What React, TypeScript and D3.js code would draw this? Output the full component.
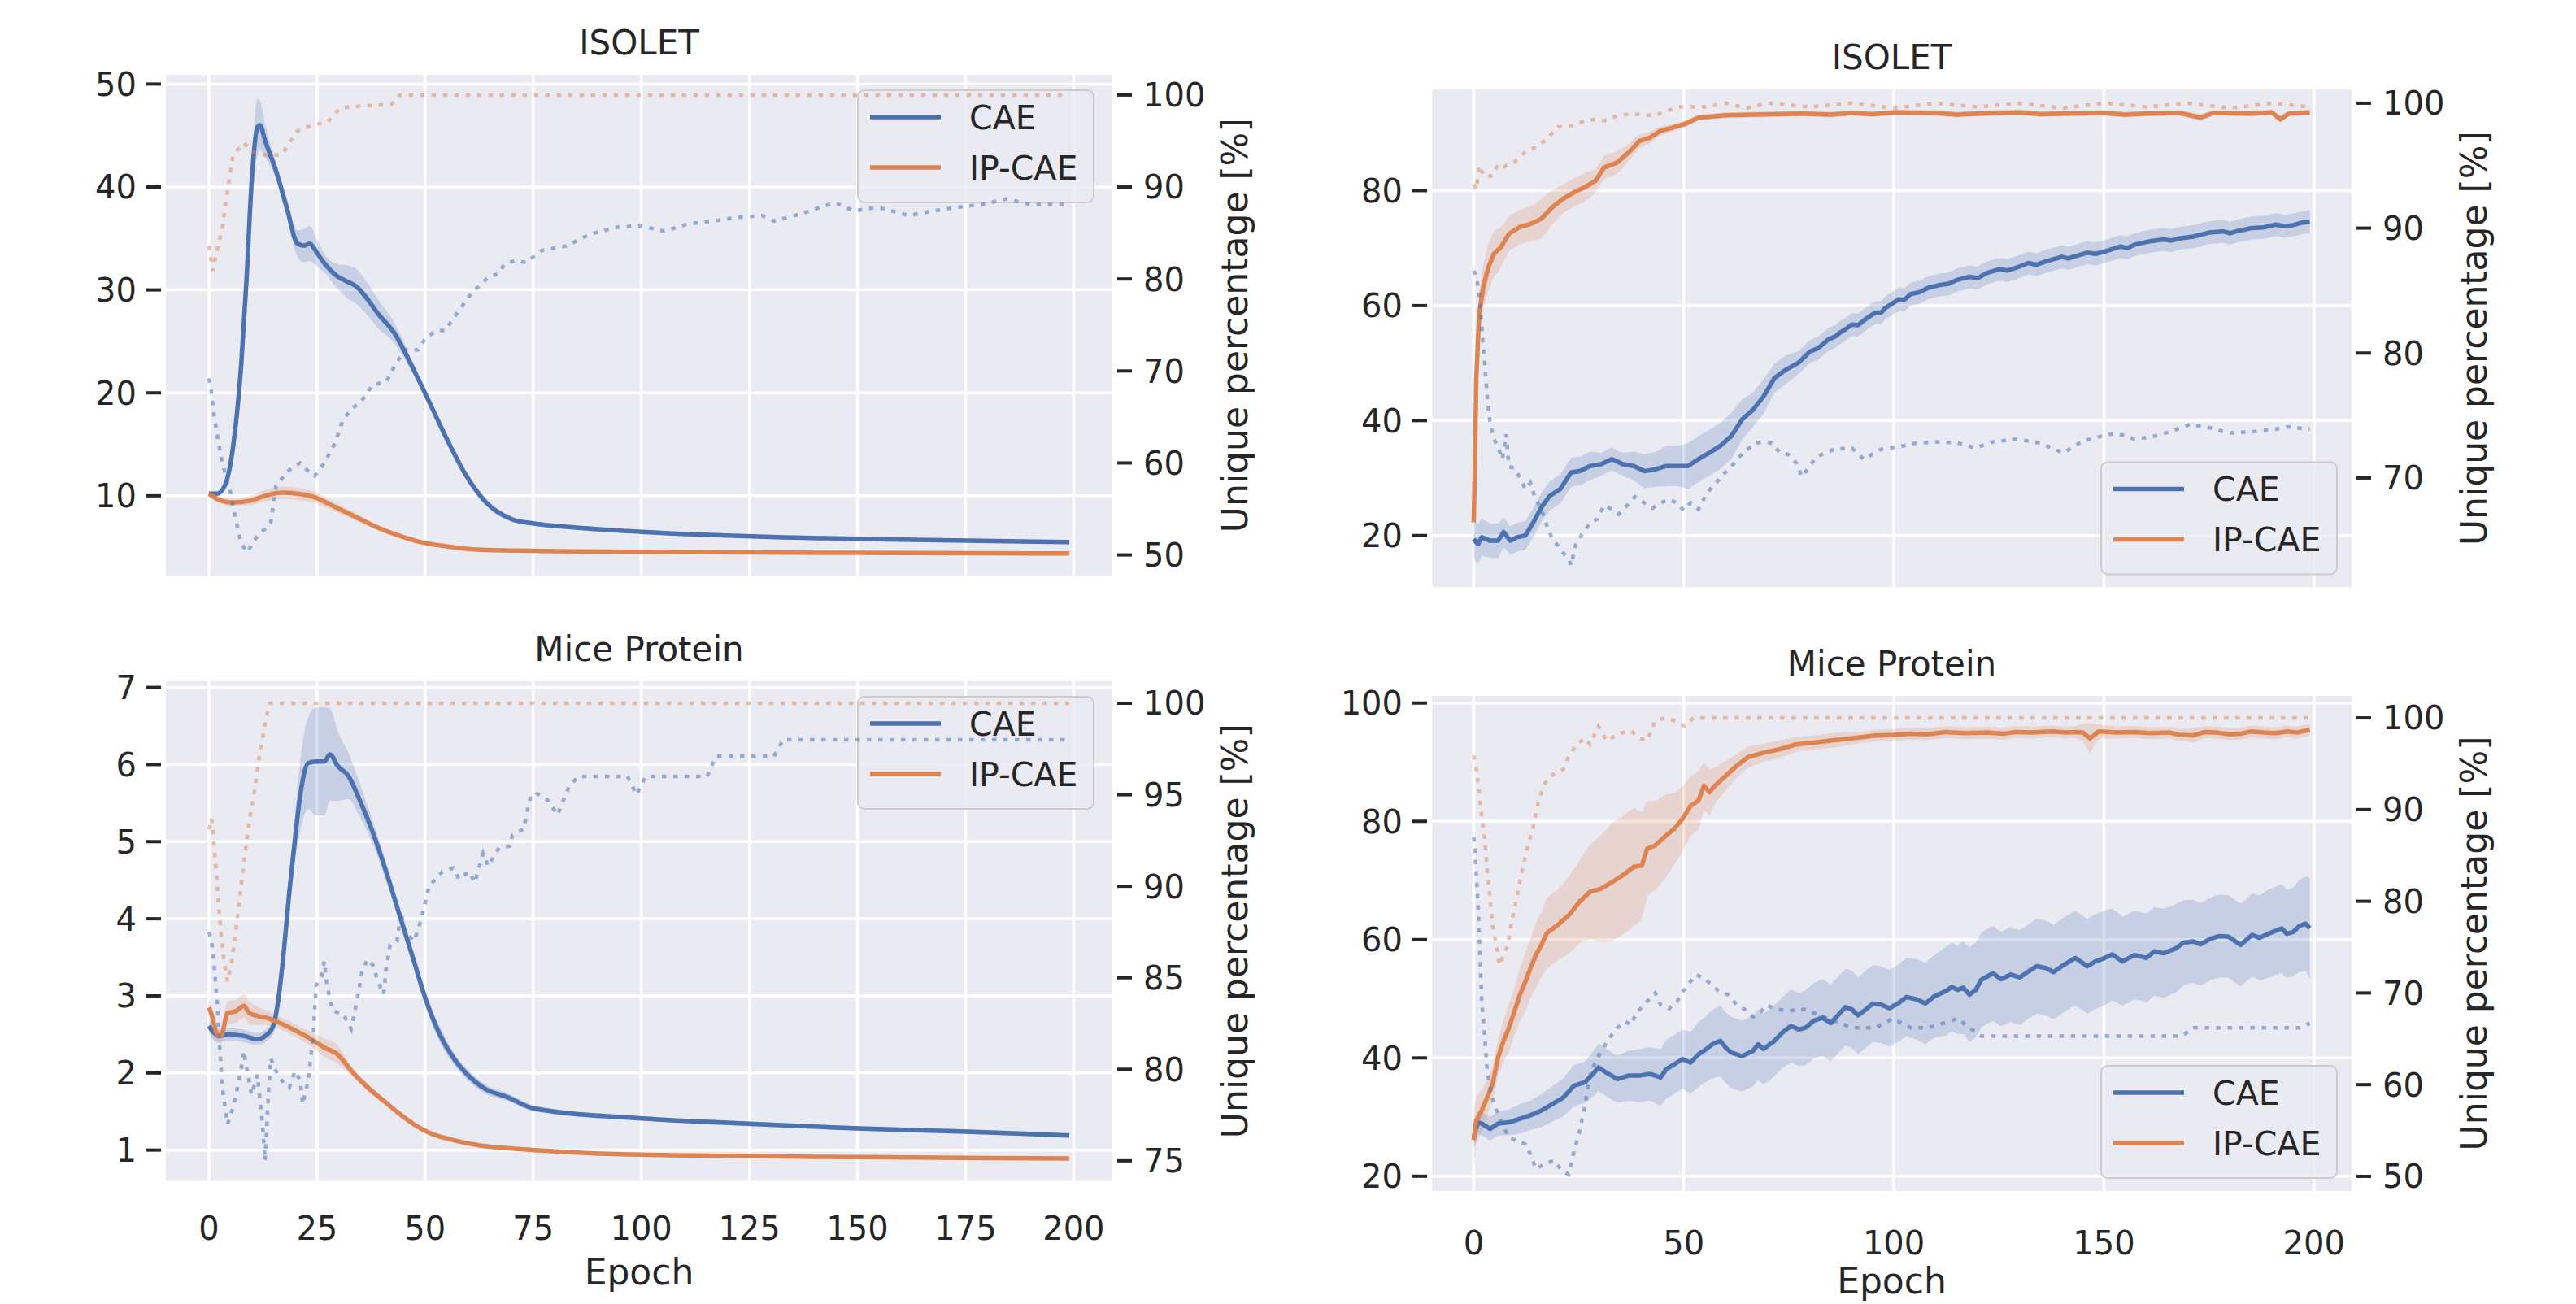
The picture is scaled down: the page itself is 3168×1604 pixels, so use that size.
import * as d3 from 'd3'

const W = 3168
const H = 1604
const FONT = '"DejaVu Sans", sans-serif'
const INK = '#262626'
const BLUE = '#4c72b0'
const ORANGE = '#dd8452'
const BG = '#eaeaf2'

// [epoch, mean, half-width of band]
const isoletLossCae = [[0,10.2,0.2],[1.9,10.2,0.2],[3.7,11.0,0.3],[5.6,14.8,0.4],[7.5,22.9,0.6],[8.7,31,0.8],[9.9,40.6,1.2],[11.2,45.8,2.8],[11.8,46.0,2.4],[13,44.5,1.6],[15.5,41.6,0.8],[18,38.0,0.9],[20.5,34.5,1.3],[22,34.3,1.6],[23.3,34.5,1.7],[25,33.6,1.3],[26.7,32.6,0.9],[29.8,31.3,1.2],[32,30.8,1.6],[34.2,30.3,1.7],[36.5,29.2,1.6],[39.1,27.7,1.4],[42.9,25.8,1.0],[46.6,22.9,0.6],[50.3,19.7,0.4],[54.7,15.8,0.3],[59.6,11.9,0.3],[64,9.4,0.3],[70.2,7.7,0.25],[75.2,7.3,0.2],[85,6.9,0.2],[100,6.5,0.2],[130,6.0,0.15],[160,5.75,0.15],[199,5.5,0.15]]
const isoletLossIp = [[0,10.2,0.3],[1.9,9.7,0.3],[5.6,9.35,0.35],[9.3,9.5,0.45],[13,10.0,0.55],[16.8,10.3,0.6],[20.5,10.2,0.6],[24.8,9.8,0.55],[29.2,8.9,0.45],[34.2,7.9,0.35],[39.1,6.9,0.25],[44.1,6.1,0.2],[49,5.5,0.15],[54.7,5.1,0.12],[60.9,4.8,0.1],[75.2,4.65,0.1],[100,4.55,0.1],[150,4.45,0.1],[199,4.4,0.1]]
// [epoch, unique %]
const isoletLossCaePct = [[0,69.2],[0.6,67.6],[1.2,65.1],[2.2,62.3],[3.1,60.0],[5,56.8],[6.2,53.9],[7.5,51.2],[9,50.3],[10.2,51.4],[11.8,52.4],[13,52.8],[14.3,53.5],[15.5,57.5],[17.4,58.6],[19.3,59.6],[21.1,60],[23,59.1],[24.5,58.6],[26.7,60],[29.2,62.2],[31,64.7],[32.9,65.8],[35.4,66.8],[37.9,68.5],[41,68.8],[42.9,70.5],[45.3,72.3],[48.4,72.3],[50.3,73.7],[52.8,74.4],[54.7,74.4],[56.5,75.7],[59.6,77.7],[60.9,78.6],[62.7,79.3],[64.6,80.2],[67.1,80.6],[68.3,81.6],[70.8,82.0],[73.3,81.8],[77,83.1],[82.7,83.6],[88.3,84.9],[94,85.6],[99.6,85.8],[105.3,85.2],[110.9,86.0],[116.6,86.3],[122.2,86.7],[127.9,86.9],[130.7,86.3],[136.4,87.0],[142,87.9],[144.9,88.3],[149.1,87.4],[154.7,87.8],[161.8,86.9],[167.5,87.4],[173.1,87.8],[178.8,88.1],[184.4,88.7],[190,88.1],[199,88.1]]
const isoletLossIpPct = [[0,83.6],[0.9,80.9],[1.9,83.1],[3.1,85.6],[4.3,89.6],[5.6,93.5],[8.1,94.8],[10.6,93.7],[13,93.5],[16.8,93.5],[20.5,96.1],[24.2,96.8],[27.3,97.0],[30.4,98.6],[35.4,98.8],[39.1,98.9],[42.2,99.0],[44.1,100],[199,100]]

const miceLossCae = [[0,2.61,0.1],[1.2,2.52,0.1],[2.5,2.48,0.08],[4.3,2.5,0.08],[8.1,2.48,0.08],[11.2,2.44,0.08],[13,2.48,0.08],[14.9,2.61,0.1],[16.1,2.97,0.12],[17.4,3.62,0.15],[18.6,4.35,0.2],[19.9,5.03,0.3],[21.1,5.59,0.45],[23,6.02,0.6],[24.8,6.04,0.7],[26.7,6.04,0.7],[28,6.13,0.6],[29.8,5.98,0.45],[32.3,5.85,0.3],[34.8,5.55,0.22],[37.9,5.12,0.15],[41,4.61,0.12],[44.1,4.05,0.1],[47.2,3.49,0.1],[50.3,2.93,0.1],[53.4,2.5,0.1],[56.5,2.2,0.08],[59.6,1.99,0.07],[64,1.79,0.06],[68.9,1.69,0.05],[75.2,1.54,0.04],[100.3,1.41,0.03],[125.4,1.34,0.03],[150.2,1.28,0.03],[175.2,1.24,0.03],[199,1.19,0.03]]
const miceLossIp = [[0,2.85,0.1],[0.6,2.76,0.12],[1.9,2.5,0.1],[2.8,2.48,0.1],[4.3,2.78,0.15],[6.2,2.8,0.15],[8.1,2.87,0.15],[9.3,2.78,0.15],[11.2,2.74,0.12],[13,2.72,0.1],[15.5,2.67,0.08],[18.6,2.59,0.08],[21.7,2.5,0.08],[24.2,2.42,0.1],[26.7,2.33,0.12],[29.8,2.24,0.12],[32.9,2.03,0.06],[36.6,1.82,0.05],[40.4,1.64,0.04],[44.1,1.47,0.04],[47.8,1.32,0.03],[51.6,1.21,0.03],[56.5,1.13,0.03],[62.7,1.06,0.02],[70.2,1.02,0.02],[75.2,1.0,0.02],[100,0.94,0.02],[150,0.91,0.02],[199,0.89,0.02]]
const miceLossCaePct = [[0,87.5],[0.6,87.0],[1.2,85.7],[1.9,83.7],[2.5,81.2],[3.1,79.0],[4.3,77.0],[5.6,77.9],[6.8,79.2],[7.5,80.1],[8.1,81.0],[8.7,80.1],[9.9,78.6],[11.2,79.7],[12.4,77.0],[13,75.0],[13.7,78.4],[14.3,80.6],[15.5,79.9],[16.8,79.4],[18.6,79.0],[19.9,79.9],[21.1,79.4],[21.7,78.1],[23,79.4],[24.2,82.1],[24.8,84.6],[26.1,85.1],[26.7,85.9],[27.3,84.6],[28.6,83.2],[31.1,83.0],[32.9,82.2],[34.2,83.7],[35.4,85.3],[36.6,86.0],[37.9,85.7],[39.1,84.8],[40.4,84.1],[41,85.5],[41.9,86.8],[43.5,87.0],[44.4,88.6],[45.3,87.5],[47.5,87.0],[49.1,88.2],[50.9,90.0],[54,90.8],[56.5,91.0],[57.8,90.4],[60.2,90.8],[61.5,90.2],[63.4,91.8],[64.6,91.1],[67.1,92.1],[69.6,92.2],[70.2,92.8],[72.7,93.1],[73.3,93.7],[73.9,94.4],[74.5,95.0],[75.6,95.1],[78.4,94.7],[80.6,93.9],[83.4,95.5],[85.5,96.0],[96.8,96.0],[98.9,95.0],[101,96.0],[115.2,96.0],[117.3,97.1],[130.7,97.1],[132.8,98.0],[199,98.0]]
const miceLossIpPct = [[0,93.1],[0.6,93.7],[1.2,92.2],[1.9,90.2],[2.5,88.2],[3.4,86.1],[4.3,84.8],[5.3,85.9],[6.2,87.5],[7.1,89.3],[8.1,91.3],[9.3,93.5],[10.6,95.3],[11.8,97.3],[13,98.9],[14,100],[199,100]]

const isoletAccCae = [[0,19.4,3.5],[1,18.5,3.5],[1.9,19.7,3.2],[3.9,19.1,3],[5.8,19.1,3],[7.1,20.6,2.5],[8.7,19.1,2.5],[10.3,19.7,2.5],[12.3,20,2.5],[14.2,22.3,2.5],[16.1,24.9,2.5],[18.1,26.9,2.5],[20.6,28.1,2.5],[23.2,31.0,2.5],[25.2,31.2,2.5],[27.7,32.1,2.5],[30.3,32.4,2],[32.9,33.3,2],[35.5,32.4,2],[38.1,32.1,2.5],[40.6,31.2,3],[43.2,31.5,3],[45.8,32.1,3.5],[48.4,32.1,3.5],[51,32.1,4],[53.5,33.3,4],[56.1,34.4,4],[58.7,35.6,4],[61.3,37.3,4],[63.9,40.2,3.5],[66.5,41.9,3],[69,44.2,3],[71.6,47.4,2.5],[74.2,48.8,2.5],[77.4,50.1,2],[80,52.0,2],[82,52.6,2],[84.4,54.1,2],[86,54.6,2],[87,55.2,2],[88.5,55.9,2],[90,56.7,2],[91.5,56.6,2],[93,57.5,2],[95.6,58.8,2],[97,58.8,2],[98,59.6,2],[101.2,61.1,2],[102.5,61.0,2],[104,62.0,2],[106,62.3,2],[108.2,63.1,2],[111,63.6,2],[113,63.8,2],[115.2,64.5,2],[118,65.0,2],[120,64.8,2],[122.2,65.7,2],[125,66.3,2],[127,66.1,2],[129.2,66.6,2],[132,67.4,2],[134,67.1,2],[136.2,67.7,2],[140,68.5,2],[141.5,68.2,2],[143.2,68.6,2],[146,69.2,2],[148,69.0,2],[150.2,69.4,2],[154,70.3,2],[155.5,70.0,2],[157.3,70.6,2],[161,71.2,2],[164.3,71.5,2],[166,71.3,2],[168,71.7,2],[171.3,72.0,2],[175,72.7,2],[178.3,72.9,2],[180,72.6,2],[182,73.0,2],[185.3,73.5,2],[188,73.6,2],[190.9,74.1,2],[193,73.8,2],[195,74.0,2],[197,74.4,2],[199,74.6,2]]
const isoletAccIp = [[0,22.3,1],[0.3,32.7,3],[0.6,47.1,4],[1.3,58.6,4],[2.3,63.3,4],[3.5,66.7,4],[4.8,69,4],[6.5,70.2,3.5],[8.4,72.5,3],[11,73.7,3],[13.5,74.2,3],[16.1,75.1,3.5],[18.7,77.1,3],[21.3,78.6,2.5],[23.9,79.7,2.5],[26.5,80.6,2.5],[29,81.7,2],[31,84.0,2],[34.2,84.9,2],[36.8,86.6,1.5],[39.4,88.6,1.2],[41.9,89.2,1],[44.5,90.4,0.8],[47.1,90.9,0.7],[50.3,91.6,0.6],[53.5,92.7,0.5],[60,93.1,0.5],[66.5,93.2,0.5],[78,93.4,0.5],[85,93.2,0.5],[90,93.5,0.5],[95,93.3,0.5],[100,93.6,0.5],[110,93.5,0.5],[115,93.2,0.5],[120,93.4,0.5],[130,93.6,0.5],[135,93.3,0.5],[140,93.4,0.5],[150,93.5,0.5],[155,93.2,0.5],[160,93.4,0.5],[168,93.5,0.5],[173,92.7,0.6],[176,93.5,0.5],[185,93.4,0.5],[190,93.6,0.5],[192,92.4,0.6],[194,93.4,0.5],[199,93.6,0.5]]
const isoletAccCaePct = [[0,86.6],[0.6,86.1],[1.3,84.8],[1.9,82.1],[2.6,79.2],[3.2,76.5],[3.9,74.4],[4.8,73.1],[5.8,72.5],[6.8,71.5],[7.7,73.5],[8.4,70.9],[9.7,70.8],[11,70.0],[12.3,69.1],[13.5,69.6],[14.5,68.5],[16.1,67.5],[17.4,66.2],[18.7,65.1],[20,64.6],[21.3,64.0],[22.6,63.5],[23.2,63.0],[24.2,64.6],[25.8,65.5],[27.7,66.4],[29.4,66.7],[31,67.8],[32.9,67.5],[34.5,67.1],[36.8,67.9],[38.4,68.5],[40.6,68.0],[42.6,67.6],[44.5,68.0],[46.5,68.3],[48.4,68.0],[50,67.4],[51.6,68.0],[53.5,67.5],[55.5,68.8],[57.4,69.5],[59.4,70.3],[61.3,70.9],[63.2,71.7],[65.2,72.3],[67.1,72.8],[69,72.9],[71,72.8],[72.9,72.0],[74.8,71.9],[76.8,71.2],[78.1,70.1],[81.6,71.7],[85.8,72.3],[90,72.4],[92.8,71.5],[97,72.3],[101.2,72.5],[105.4,72.8],[111,72.9],[115.2,72.8],[119.4,72.4],[123.6,72.9],[129.2,73.1],[134.8,72.8],[140.4,72.0],[144.6,72.9],[148.8,73.3],[153,73.6],[157.3,73.1],[161.5,73.3],[165.7,73.7],[170.6,74.3],[175.5,74.0],[179.7,73.6],[185.3,73.7],[190.9,73.9],[193.7,74.1],[199,73.9]]
const isoletAccIpPct = [[0,93.5],[0.6,93.1],[1.3,95.0],[2.6,94.1],[4.5,94.2],[5.8,95.1],[7.1,94.9],[9.7,95.3],[12.3,96.1],[14.8,96.5],[17.4,97.1],[20,98.1],[23.2,98.2],[26.5,98.6],[29,98.7],[31,98.6],[34.2,99.0],[36.8,99.1],[39.4,99.1],[43.2,99.0],[45.2,99.3],[49,99.7],[55,99.7],[60,100],[65,99.6],[70,100],[80,99.7],[90,100],[100,99.6],[110,100],[120,99.7],[130,100],[140,99.6],[150,100],[160,99.7],[170,100],[180,99.6],[190,100],[199,99.7]]

const miceAccCae = [[0,26.6,2],[1,29.1,2],[1.9,28.9,2],[3.9,28.0,2],[5.8,28.9,2],[8.4,29.1,2.2],[11,29.7,2.5],[13.5,30.3,2.5],[16.1,31.1,2.8],[18.7,32.2,3],[21.3,33.3,3.2],[23.9,35.3,3.5],[26.5,35.9,3.5],[28.4,37.3,3.8],[29.7,38.4,4],[31.6,37.5,4],[34.2,36.4,4],[36.8,37.0,4.2],[39.4,37.0,4.5],[41.9,37.3,4.5],[44.5,36.7,4.8],[45.8,38.1,5],[47.7,38.9,5],[49.7,39.8,5],[51.6,39.2,5.2],[53.5,40.6,5.5],[54.8,41.2,5.5],[56.8,42.3,5.8],[58.7,42.9,6],[60,41.7,6],[61.3,40.9,6],[63.9,40.3,6],[66.5,41.2,6],[67.7,42.3,6],[69,41.5,6],[71.6,42.9,6],[73.5,44.3,6],[75.5,45.4,6.2],[77.4,44.8,6.2],[79,45.1,6.3],[81,46.3,6.4],[83,46.8,6.5],[85,45.9,6.5],[87.2,47.6,6.5],[88.5,48.6,6.5],[90,48.2,6.5],[91.5,47.2,6.5],[92.8,47.9,6.5],[95,49.2,6.5],[97,49.0,6.5],[99,48.4,6.5],[101.2,49.3,6.5],[103,50.3,6.6],[105.4,49.9,6.8],[107.5,49.2,6.9],[109.6,50.4,7],[112.4,51.3,7.5],[113.8,52.0,7.5],[115.2,51.5,7.5],[116.5,51.9,7.8],[118,50.7,8],[119.5,51.5,8],[120.8,53.2,8],[123.6,54.3,8],[125.5,53.3,8],[127.8,54.1,8],[130,53.6,8],[132,54.6,8],[134,55.5,8],[136.2,55.2,8],[138,54.5,8],[140.4,55.7,8],[143.2,56.9,8],[146,55.5,8],[148,56.3,8],[150.2,56.9,8],[152,57.5,7.8],[154.4,56.3,7.5],[157.3,57.4,7.5],[160.1,56.9,7.5],[162,58.0,7.5],[164.3,57.7,7.5],[167.1,58.5,7.5],[169,59.5,7.2],[171.3,59.7,7],[173,59.2,7],[175.5,60.2,7],[177.5,60.6,7],[179.7,60.5,7],[182.5,59.1,7],[185.3,60.8,7],[187,60.3,7.2],[189.5,61.1,7.5],[192.3,61.9,7.5],[193.5,61.0,7.5],[195.1,61.3,7.5],[196.5,62.3,7.8],[198,62.7,8],[199,61.9,8.5]]
const miceAccIp = [[0,26.1,5],[0.6,29.4,4],[1.9,31.1,3.5],[3.2,33.3,3],[4.5,35.6,3],[5.8,40.1,3],[7.1,42.9,3.5],[8.4,45.1,4],[9.7,47.9,4],[11,50.7,4.5],[12.3,52.9,5],[13.5,55.2,5],[14.8,57.4,5.5],[16.1,59.1,5.5],[17.4,61.1,6],[20,62.5,6],[22.6,64.1,6.5],[25.2,66.4,7],[27.7,68.1,8],[30.3,68.6,9],[32.9,69.7,10],[35.5,70.9,10],[38.1,72.3,10],[40,72.5,9],[41.3,75.4,8],[43.2,75.9,7.5],[45.8,77.6,7],[47.7,78.7,6],[49.7,80.4,5.5],[51.6,82.6,5],[53.5,83.5,5],[54.8,86.0,4],[56.1,84.9,4],[57.4,86.0,3],[60,87.7,2.5],[62.6,89.4,2],[65.2,90.8,1.8],[69,91.6,1.5],[72.9,92.2,1.5],[76.8,93.0,1.2],[82,93.4,1.2],[87.2,93.8,1.2],[92,94.2,1],[95.6,94.5,1],[100,94.6,1],[104,94.8,1],[108,94.7,1],[112.4,95.1,1],[117,94.9,1],[122.2,95.0,1],[126,94.8,1],[129.2,95.1,1],[133,95.0,1],[137.6,95.2,1],[141,95.0,1],[143.2,95.1,1],[145,95.0,1.5],[146.7,94.0,2.5],[148.8,95.2,1.2],[153,95.0,1],[157.3,95.1,1],[161,94.9,1],[165.7,95.0,1],[168,94.6,1],[171.3,94.5,1.2],[174,95.1,1],[176.9,95.0,1],[180,94.7,1],[182.5,94.8,1],[185,95.2,1],[188.1,95.0,1],[191,94.9,1],[193.7,95.2,1],[196,95.0,1],[199,95.5,1]]
const miceAccCaePct = [[0,87.0],[0.3,85.4],[0.6,82.8],[1,79.9],[1.3,76.3],[1.6,72.7],[1.9,69.1],[2.6,65.4],[3.2,61.5],[4.2,58.9],[5.2,57.5],[6.5,56.0],[8.4,54.2],[10.3,53.9],[12.3,53.5],[13.5,52.4],[14.8,50.8],[17.4,51.5],[19.4,51.7],[20.6,50.8],[22.6,50.2],[23.9,52.8],[25.2,54.9],[26.5,57.8],[27.7,61.1],[29,62.5],[30.3,63.6],[32.3,65.1],[34.2,66.2],[36.1,66.9],[37.4,66.5],[38.7,67.8],[41.3,69.1],[43.2,70.0],[44.5,68.7],[46.5,68.3],[48.4,69.1],[49.7,70.1],[51,70.9],[52.9,72.0],[54.8,71.6],[56.1,71.1],[58.1,70.3],[60.6,69.8],[62.6,68.7],[64.5,68.2],[66.5,67.4],[68.4,68.0],[69.7,68.7],[71.6,68.3],[72.9,68.2],[74.8,68.0],[76.8,68.2],[78.8,68.2],[84.4,67.2],[90,66.2],[95.6,66.2],[99.8,67.2],[104,66.2],[108.2,66.2],[115.2,67.2],[118,66.2],[120.8,65.3],[168.5,65.3],[171.3,66.2],[196.5,66.2],[199,66.7]]
const miceAccIpPct = [[0,95.9],[0.6,94.4],[1.3,91.9],[1.9,89.3],[2.6,86.8],[3.2,83.5],[3.9,80.3],[4.5,77.4],[5.5,74.8],[6.1,73.0],[7.1,74.1],[8.1,75.2],[9,77.7],[10.3,80.6],[11.6,83.5],[12.9,86.1],[14.2,88.2],[15.5,91.1],[17.4,93.3],[19.4,94.0],[21.3,94.4],[22.6,95.8],[24.5,97.1],[26.5,97.8],[27.7,97.1],[29.7,99.1],[31.6,97.5],[33.5,98.0],[35.5,98.4],[37.4,98.6],[39.4,97.8],[41.3,97.5],[43.2,99.7],[45.8,100],[47.7,99.7],[50.3,99.1],[52.3,100],[199,100]]

const lossTicksIsolet = [10, 20, 30, 40, 50]
const pctTicksIsoletLoss = [50, 60, 70, 80, 90, 100]
const lossTicksMice = [1, 2, 3, 4, 5, 6, 7]
const pctTicksMiceLoss = [75, 80, 85, 90, 95, 100]
const accTicksIsolet = [20, 40, 60, 80]
const pctTicksIsoletAcc = [70, 80, 90, 100]
const accTicksMice = [20, 40, 60, 80, 100]
const pctTicksMiceAcc = [50, 60, 70, 80, 90, 100]
const epochTicksLeft = [0, 25, 50, 75, 100, 125, 150, 175, 200]
const epochTicksRight = [0, 50, 100, 150, 200]

const legendItems = [
  { label: 'CAE', color: BLUE },
  { label: 'IP-CAE', color: ORANGE },
]

type Row = number[]

interface Spec {
  id: string
  title: string
  left: number
  right: number
  top: number
  bottom: number
  yDomain: [number, number]
  y2Domain: [number, number]
  yTicks: number[]
  y2Ticks: number[]
  xTicks: number[]
  showX: boolean
  tickPad: number
  labelPad: number
  legend: 'upper' | 'lower'
  smooth: boolean
  cae: Row[]
  ip: Row[]
  caePct: Row[]
  ipPct: Row[]
}

const panels: Spec[] = [
  { id: 'a', title: 'ISOLET', left: 204, right: 1368, top: 92, bottom: 708.6, yDomain: [2.2, 50.9], y2Domain: [47.7, 102.2],
    yTicks: lossTicksIsolet, y2Ticks: pctTicksIsoletLoss, xTicks: epochTicksLeft, showX: false, tickPad: 72, labelPad: 127,
    legend: 'upper', smooth: true, cae: isoletLossCae, ip: isoletLossIp, caePct: isoletLossCaePct, ipPct: isoletLossIpPct },
  { id: 'b', title: 'Mice Protein', left: 204, right: 1368, top: 838, bottom: 1452.6, yDomain: [0.6, 7.08], y2Domain: [73.9, 101.2],
    yTicks: lossTicksMice, y2Ticks: pctTicksMiceLoss, xTicks: epochTicksLeft, showX: true, tickPad: 72, labelPad: 127,
    legend: 'upper', smooth: true, cae: miceLossCae, ip: miceLossIp, caePct: miceLossCaePct, ipPct: miceLossIpPct },
  { id: 'c', title: 'ISOLET', left: 1761, right: 2892, top: 110, bottom: 722.4, yDomain: [11, 97.6], y2Domain: [61.25, 101.1],
    yTicks: accTicksIsolet, y2Ticks: pctTicksIsoletAcc, xTicks: epochTicksRight, showX: false, tickPad: 78, labelPad: 126,
    legend: 'lower', smooth: false, cae: isoletAccCae, ip: isoletAccIp, caePct: isoletAccCaePct, ipPct: isoletAccIpPct },
  { id: 'd', title: 'Mice Protein', left: 1761, right: 2892, top: 856, bottom: 1465, yDomain: [17.5, 101.2], y2Domain: [48.4, 102.4],
    yTicks: accTicksMice, y2Ticks: pctTicksMiceAcc, xTicks: epochTicksRight, showX: true, tickPad: 78, labelPad: 126,
    legend: 'lower', smooth: false, cae: miceAccCae, ip: miceAccIp, caePct: miceAccCaePct, ipPct: miceAccIpPct },
]

function Panel({ p }: { p: Spec }) {
  const x = d3.scaleLinear().domain([-9.95, 208.95]).range([p.left, p.right])
  const y = d3.scaleLinear().domain(p.yDomain).range([p.bottom, p.top])
  const y2 = d3.scaleLinear().domain(p.y2Domain).range([p.bottom, p.top])
  const curve = p.smooth ? d3.curveMonotoneX : d3.curveLinear
  const mean = d3.line<Row>().x(d => x(d[0])).y(d => y(d[1])).curve(curve)
  const band = d3.area<Row>().x(d => x(d[0])).y0(d => y(d[1] - d[2])).y1(d => y(d[1] + d[2])).curve(curve)
  const dotted = d3.line<Row>().x(d => x(d[0])).y(d => y2(d[1]))

  const lw = 290, lh = 138
  const lx = p.right - (p.legend === 'upper' ? 23 : 18) - lw
  const ly = p.legend === 'upper' ? p.top + 19 : p.bottom - 16 - lh
  const midY = (p.top + p.bottom) / 2
  const midX = (p.left + p.right) / 2

  return (
    <g>
      <defs>
        <clipPath id={`clip-${p.id}`}>
          <rect x={p.left} y={p.top} width={p.right - p.left} height={p.bottom - p.top} />
        </clipPath>
      </defs>
      <rect x={p.left} y={p.top} width={p.right - p.left} height={p.bottom - p.top} fill={BG} />
      {p.xTicks.map(t => (
        <line key={`gx${t}`} x1={x(t)} x2={x(t)} y1={p.top} y2={p.bottom} stroke="#fff" strokeWidth={3.5} />
      ))}
      {p.yTicks.map(t => (
        <line key={`gy${t}`} x1={p.left} x2={p.right} y1={y(t)} y2={y(t)} stroke="#fff" strokeWidth={3.5} />
      ))}
      <g clipPath={`url(#clip-${p.id})`}>
        <path d={band(p.cae) ?? ''} fill={BLUE} fillOpacity={0.22} />
        <path d={band(p.ip) ?? ''} fill={ORANGE} fillOpacity={0.22} />
        <path d={mean(p.cae) ?? ''} fill="none" stroke={BLUE} strokeWidth={5.5} strokeLinejoin="round" />
        <path d={mean(p.ip) ?? ''} fill="none" stroke={ORANGE} strokeWidth={5.5} strokeLinejoin="round" />
      </g>

      <g>
        <rect x={lx} y={ly} width={lw} height={lh} rx={8} fill={BG} fillOpacity={0.8} stroke="#cccccc" strokeWidth={2} />
        {legendItems.map((it, i) => (
          <g key={it.label}>
            <line x1={lx + 15} x2={lx + 102} y1={ly + 33 + i * 62} y2={ly + 33 + i * 62} stroke={it.color} strokeWidth={5.5} />
            <text x={lx + 137} y={ly + 33 + i * 62} dy="0.36em" fontSize={41} fill={INK} fontFamily={FONT}>{it.label}</text>
          </g>
        ))}
      </g>

      <g clipPath={`url(#clip-${p.id})`}>
        <path d={dotted(p.caePct) ?? ''} fill="none" stroke={BLUE} strokeOpacity={0.55} strokeWidth={4.5} strokeDasharray="5.5 8.5" />
        <path d={dotted(p.ipPct) ?? ''} fill="none" stroke={ORANGE} strokeOpacity={0.5} strokeWidth={4.5} strokeDasharray="5.5 8.5" />
      </g>

      {p.yTicks.map(t => (
        <g key={`ty${t}`}>
          <line x1={p.left - 24} x2={p.left - 6} y1={y(t)} y2={y(t)} stroke={INK} strokeWidth={4} />
          <text x={p.left - 36} y={y(t)} dy="0.36em" textAnchor="end" fontSize={40} fill={INK} fontFamily={FONT}>{t}</text>
        </g>
      ))}
      {p.y2Ticks.map(t => (
        <g key={`ty2${t}`}>
          <line x1={p.right + 6} x2={p.right + 24} y1={y2(t)} y2={y2(t)} stroke={INK} strokeWidth={4} />
          <text x={p.right + 38} y={y2(t)} dy="0.36em" textAnchor="start" fontSize={40} fill={INK} fontFamily={FONT}>{t}</text>
        </g>
      ))}
      {p.showX && p.xTicks.map(t => (
        <text key={`tx${t}`} x={x(t)} y={p.bottom + p.tickPad} textAnchor="middle" fontSize={40} fill={INK} fontFamily={FONT}>{t}</text>
      ))}
      {p.showX && (
        <text x={midX} y={p.bottom + p.labelPad} textAnchor="middle" fontSize={44} fill={INK} fontFamily={FONT}>Epoch</text>
      )}
      <text x={midX} y={p.top - 25} textAnchor="middle" fontSize={42} fill={INK} fontFamily={FONT}>{p.title}</text>
      <text transform={`translate(${p.right + 166}, ${midY}) rotate(-90)`} textAnchor="middle" fontSize={44} fill={INK} fontFamily={FONT}>
        Unique percentage [%]
      </text>
    </g>
  )
}

export default function App() {
  return (
    <svg width={W} height={H} viewBox={`0 0 ${W} ${H}`} style={{ position: 'absolute', left: 0, top: 0, background: '#fff' }}>
      <rect width={W} height={H} fill="#fff" />
      {panels.map(p => <Panel key={p.id} p={p} />)}
    </svg>
  )
}
